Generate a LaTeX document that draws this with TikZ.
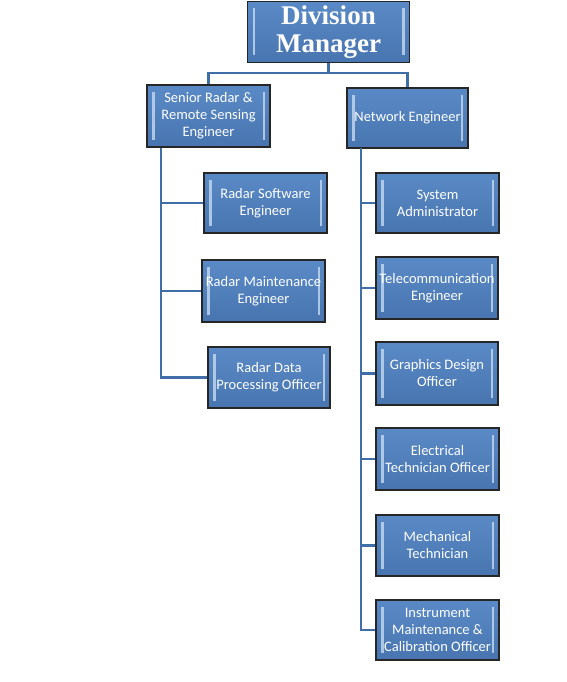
\documentclass[tikz,border=0pt]{standalone}
\usepackage{fontspec}
\setmainfont{Carlito}
\newfontfamily\dmfont{Liberation Serif}
\definecolor{boxtop}{HTML}{5A8AC6}
\definecolor{boxbot}{HTML}{4875B0}
\definecolor{barcol}{HTML}{C5DAF0}
\definecolor{conncol}{HTML}{3F6EA8}
\tikzset{
  orgbox/.style={rectangle, draw=black!85, line width=1.1pt,
    top color=boxtop, bottom color=boxbot,
    text=white, align=center, inner sep=0pt,
    font=\fontsize{14.5}{17}\selectfont,
    path picture={
      \fill[barcol, opacity=0.8] ([xshift=5pt,yshift=-7pt]path picture bounding box.north west) rectangle ([xshift=7.5pt,yshift=7pt]path picture bounding box.south west);
      \fill[barcol, opacity=0.8] ([xshift=-5pt,yshift=-7pt]path picture bounding box.north east) rectangle ([xshift=-7.5pt,yshift=7pt]path picture bounding box.south east);
    }},
  conn/.style={draw=conncol, line width=2.6pt}
}
\begin{document}
\begin{tikzpicture}[x=1pt,y=-1pt]
\useasboundingbox (0,0) rectangle (566,682);
% connectors
\coordinate (dmj) at (328.5,73);
\coordinate (sl) at (161,148);
\coordinate (nl) at (361,148);
% boxes
\node[orgbox, minimum width=162pt, minimum height=61pt, font=\dmfont\bfseries\fontsize{27}{28}\selectfont] (dm) at (328.5,32) {Division\\Manager};
\node[orgbox, minimum width=123pt, minimum height=62pt] (sr) at (208.5,116) {Senior Radar \&\\Remote Sensing\\Engineer};
\node[orgbox, minimum width=121pt, minimum height=60pt] (ne) at (407.5,118) {Network Engineer};
\node[orgbox, minimum width=123pt, minimum height=60pt] (rse) at (265.5,203) {Radar Software\\Engineer};
\node[orgbox, minimum width=123pt, minimum height=62pt] (rme) at (263.5,291) {Radar Maintenance\\Engineer};
\node[orgbox, minimum width=122pt, minimum height=61pt] (rdpo) at (269,377.5) {Radar Data\\Processing Officer};
\node[orgbox, minimum width=123pt, minimum height=60pt] (sa) at (437.5,203) {System\\Administrator};
\node[orgbox, minimum width=122pt, minimum height=62pt] (te) at (437,288) {Telecommunication\\Engineer};
\node[orgbox, minimum width=122pt, minimum height=63pt] (gdo) at (437,373.5) {Graphics Design\\Officer};
\node[orgbox, minimum width=123pt, minimum height=62pt] (eto) at (437.5,459) {Electrical\\Technician Officer};
\node[orgbox, minimum width=123pt, minimum height=61pt] (mt) at (437.5,545.5) {Mechanical\\Technician};
\node[orgbox, minimum width=123pt, minimum height=60pt] (imco) at (437.5,630) {Instrument\\Maintenance \&\\Calibration Officer};
\draw[conn] (dm.south) -- (dmj) -| (sr.north);
\draw[conn] (dmj) -| (ne.north);
\draw[conn] (sr.south -| sl) |- (rse.west);
\draw[conn] (sl) |- (rme.west);
\draw[conn] (sl) |- (rdpo.west);
\draw[conn] (ne.south -| nl) |- (sa.west);
\draw[conn] (nl) |- (te.west);
\draw[conn] (nl) |- (gdo.west);
\draw[conn] (nl) |- (eto.west);
\draw[conn] (nl) |- (mt.west);
\draw[conn] (nl) |- (imco.west);
\end{tikzpicture}
\end{document}
